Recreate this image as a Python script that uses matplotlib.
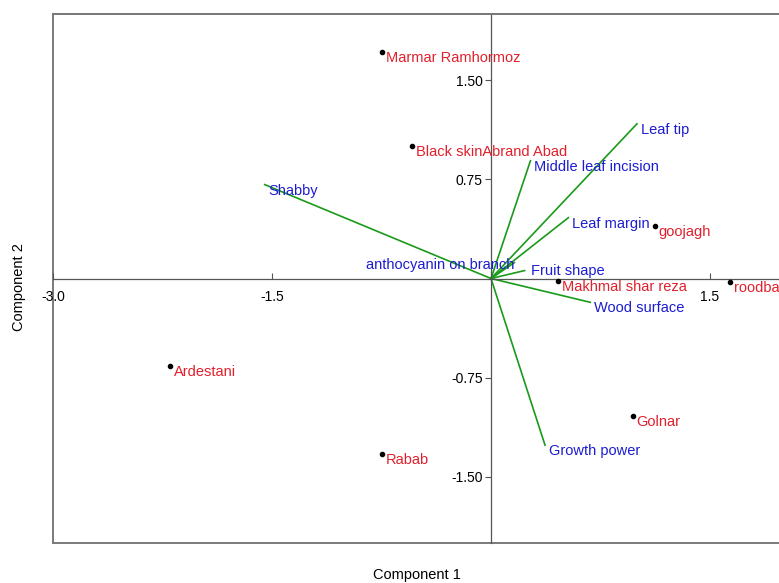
import matplotlib.pyplot as plt

plt.rcParams['font.family'] = ['Liberation Sans', 'DejaVu Sans']

# genotype scores (component 1, component 2)
genotypes = ['Marmar Ramhormoz', 'Black skinAbrand Abad', 'goojagh', 'roodbar',
             'Makhmal shar reza', 'Golnar', 'Rabab', 'Ardestani']
geno_c1 = [-0.75, -0.54, 1.12, 1.64, 0.46, 0.97, -0.75, -2.20]
geno_c2 = [1.71, 1.00, 0.40, -0.03, -0.02, -1.04, -1.33, -0.66]

# trait loadings
traits = ['Leaf tip', 'Middle leaf incision', 'Leaf margin', 'Fruit shape',
          'anthocyanin on branch', 'Shabby', 'Wood surface', 'Growth power']
trait_c1 = [1.00, 0.27, 0.53, 0.23, 0.16, -1.55, 0.68, 0.37]
trait_c2 = [1.17, 0.89, 0.46, 0.06, 0.12, 0.71, -0.18, -1.26]

x_ticks = [-3.0, -1.5, 1.5, 3.0]
y_ticks = [-1.5, -0.75, 0.75, 1.5]

red = '#e0202c'
blue = '#1c1cd0'
green = '#1a9a1a'
gray = '#7a7a7a'

# label placement (pixels from the end of the vector)
label_offset = {'Fruit shape': (6, 0, 'left'), 'anthocyanin on branch': (0, -2, 'right')}

fig = plt.figure(figsize=(7.79, 5.83), dpi=100)
ax = fig.add_axes([53 / 779, 40 / 583, 876 / 779, 529 / 583])
ax.set_xlim(-3, 3)
ax.set_ylim(-2, 2)

# frame around the plot, axis lines through the origin
ax.patch.set_edgecolor(gray)
ax.patch.set_linewidth(1.4)
for side in ['top', 'right']:
    ax.spines[side].set_color(gray)
    ax.spines[side].set_linewidth(1.1)
for side in ['left', 'bottom']:
    ax.spines[side].set_position(('data', 0))
    ax.spines[side].set_color('#555555')
    ax.spines[side].set_linewidth(0.9)

ax.set_xticks(x_ticks)
ax.set_xticklabels([f'{v:.1f}' for v in x_ticks])
ax.set_yticks(y_ticks)
ax.set_yticklabels([f'{v:.2f}' for v in y_ticks])
ax.tick_params(axis='x', direction='in', length=4, pad=8, labelsize=10, color='#555555')
ax.tick_params(axis='y', direction='out', length=4, pad=2, labelsize=10, color='#555555')

for x, y, name in zip(trait_c1, trait_c2, traits):
    ax.plot([0, x], [0, y], color=green, lw=1.2, zorder=2)
    dx, dy, ha = label_offset.get(name, (4, -6, 'left'))
    ax.annotate(name, (x, y), xytext=(dx, dy), textcoords='offset pixels',
                ha=ha, va='center', color=blue, fontsize=10.5, zorder=3)

ax.scatter(geno_c1, geno_c2, s=9, color='black', zorder=4)
for x, y, name in zip(geno_c1, geno_c2, genotypes):
    ax.annotate(name, (x, y), xytext=(4, -6), textcoords='offset pixels',
                ha='left', va='center', color=red, fontsize=10.5, zorder=4)

fig.text(417 / 779, 8 / 583, 'Component 1', ha='center', va='center', fontsize=10.5)
fig.text(19 / 779, 296 / 583, 'Component 2', ha='center', va='center',
         rotation=90, fontsize=10.5)

fig.savefig('out.png', dpi=100)
